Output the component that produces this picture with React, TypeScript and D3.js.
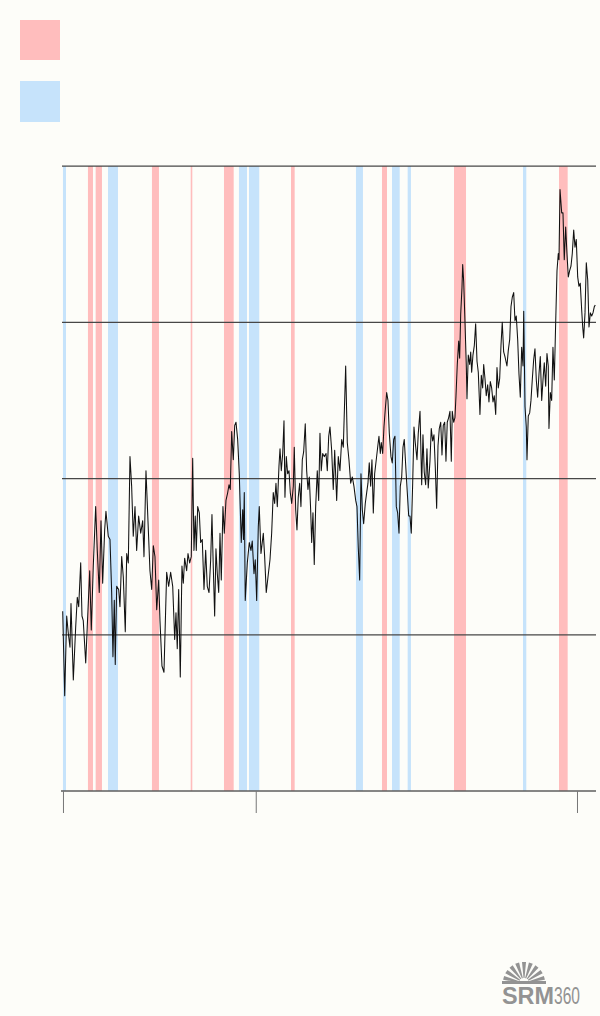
import React from "react";
import * as d3 from "d3";

// ---------- DATA ----------
const years: number[] = [
  1939.88, 1940.19, 1940.5, 1940.75, 1941.01, 1941.17, 1941.53, 1941.9, 1942.15, 1942.37,
  1942.68, 1942.88, 1943.08, 1943.46, 1943.7, 1944.08, 1944.33, 1944.64, 1945.01, 1945.26,
  1945.57, 1945.84, 1946.1, 1946.41, 1946.61, 1946.97, 1947.24, 1947.5, 1947.7, 1947.91,
  1948.06, 1948.28, 1948.59, 1948.79, 1949.06, 1949.31, 1949.62, 1949.84, 1950.09, 1950.35,
  1950.61, 1950.86, 1951.13, 1951.39, 1951.7, 1952.02, 1952.33, 1952.53, 1952.84, 1953.15,
  1953.46, 1953.73, 1953.98, 1954.24, 1954.51, 1954.82, 1955.02, 1955.33, 1955.64, 1956.06,
  1956.37, 1956.68, 1957.0, 1957.31, 1957.51, 1957.71, 1957.93, 1958.18, 1958.44, 1958.65,
  1958.86, 1959.17, 1959.38, 1959.64, 1959.89, 1960.11, 1960.31, 1960.51, 1960.67, 1960.89,
  1961.14, 1961.35, 1961.6, 1961.87, 1962.13, 1962.38, 1962.65, 1962.91, 1963.11, 1963.31,
  1963.53, 1963.73, 1963.94, 1964.16, 1964.36, 1964.56, 1964.82, 1965.03, 1965.29, 1965.56,
  1965.76, 1965.96, 1966.18, 1966.43, 1966.65, 1966.85, 1967.11, 1967.36, 1967.67, 1967.89,
  1968.01, 1968.14, 1968.29, 1968.61, 1968.92, 1969.18, 1969.38, 1969.65, 1969.85, 1970.07,
  1970.32, 1970.47, 1970.74, 1971.1, 1971.31, 1971.56, 1971.83, 1972.14, 1972.4, 1972.65,
  1972.87, 1973.07, 1973.28, 1973.54, 1973.7, 1973.9, 1974.12, 1974.32, 1974.47, 1974.68,
  1974.89, 1975.1, 1975.3, 1975.52, 1975.77, 1975.92, 1976.14, 1976.34, 1976.54, 1976.76,
  1976.96, 1977.17, 1977.38, 1977.63, 1977.85, 1978.05, 1978.26, 1978.47, 1978.63, 1978.83,
  1979.03, 1979.25, 1979.5, 1979.72, 1979.92, 1980.12, 1980.34, 1980.59, 1980.86, 1981.06,
  1981.28, 1981.48, 1981.74, 1981.99, 1982.21, 1982.52, 1982.77, 1983.03, 1983.3, 1983.55,
  1983.92, 1984.17, 1984.43, 1984.7, 1984.95, 1985.21, 1985.48, 1985.68, 1985.88, 1986.1,
  1986.3, 1986.51, 1986.72, 1986.97, 1987.19, 1987.39, 1987.59, 1987.81, 1988.01, 1988.22,
  1988.43, 1988.68, 1988.9, 1989.1, 1989.31, 1989.46, 1989.68, 1989.88, 1990.08, 1990.3,
  1990.5, 1990.71, 1990.97, 1991.17, 1991.39, 1991.59, 1991.8, 1992.01, 1992.22, 1992.42,
  1992.64, 1992.84, 1993.04, 1993.31, 1993.51, 1993.73, 1993.93, 1994.13, 1994.35, 1994.55,
  1994.75, 1995.02, 1995.22, 1995.49, 1995.75, 1995.95, 1996.15, 1996.37, 1996.57, 1996.77,
  1997.04, 1997.24, 1997.46, 1997.66, 1997.87, 1998.08, 1998.29, 1998.49, 1998.71, 1998.91,
  1999.11, 1999.33, 1999.53, 1999.73, 1999.95, 2000.15, 2000.36, 2000.51, 2000.73, 2000.93,
  2001.09, 2001.29, 2001.51, 2001.66, 2001.82, 2002.02, 2002.13, 2002.29, 2002.49, 2002.69,
  2002.8, 2003.0, 2003.22, 2003.38, 2003.53, 2003.73, 2003.94, 2004.15, 2004.36, 2004.56,
  2004.82, 2005.03, 2005.24, 2005.4, 2005.6, 2005.8, 2006.02, 2006.22, 2006.43, 2006.64,
  2006.85, 2007.05, 2007.27, 2007.47, 2007.67, 2007.89, 2008.09, 2008.29, 2008.51, 2008.71,
  2009.02, 2009.23, 2009.45, 2009.65, 2009.85, 2010.07, 2010.27, 2010.47, 2010.69, 2010.89,
  2011.1, 2011.31, 2011.52, 2011.63, 2011.83, 2012.03, 2012.14, 2012.34, 2012.56, 2012.76,
  2012.96, 2013.18, 2013.38, 2013.59, 2013.8, 2014.01, 2014.21, 2014.43, 2014.63, 2014.83,
  2015.05, 2015.25, 2015.45, 2015.56, 2015.77, 2015.98, 2016.18, 2016.39, 2016.6, 2016.81,
  2017.01, 2017.12, 2017.28, 2017.54, 2017.74, 2017.94, 2018.16, 2018.36, 2018.57, 2018.78,
  2018.99, 2019.19, 2019.41, 2019.61, 2019.81, 2020.03, 2020.23, 2020.43, 2020.65, 2020.81,
  2020.96, 2021.17, 2021.37, 2021.59, 2021.79, 2022.0, 2022.21, 2022.41, 2022.62, 2022.77,
];

const values: number[] = [
  1.15, 0.61, 1.12, 1.01, 0.92, 1.2, 0.71, 1.05, 1.24, 1.18,
  1.46, 1.12, 1.09, 0.82, 1.05, 1.41, 1.03, 1.44, 1.82, 1.54,
  1.27, 1.73, 1.33, 1.67, 1.79, 1.63, 1.61, 1.27, 0.86, 1.22,
  0.81, 1.31, 1.29, 1.18, 1.5, 1.37, 1.02, 1.52, 1.46, 2.14,
  1.95, 1.63, 1.82, 1.54, 1.76, 1.65, 1.73, 1.5, 2.05, 1.73,
  1.41, 1.29, 1.57, 1.5, 1.16, 1.35, 1.09, 0.8, 0.76, 1.4,
  1.31, 1.4, 1.31, 0.97, 1.14, 0.91, 1.29, 0.73, 1.44, 1.33,
  1.49, 1.41, 1.52, 1.46, 1.5, 2.13, 1.54, 1.76, 1.54, 1.82,
  1.78, 1.59, 1.61, 1.29, 1.54, 1.31, 1.27, 1.48, 1.77, 1.44,
  1.12, 1.55, 1.39, 1.27, 1.65, 1.35, 1.82, 1.65, 1.86, 1.91,
  1.96, 1.93, 2.3, 2.12, 2.34, 2.36, 2.25, 2.03, 1.59, 1.8,
  1.61, 1.91, 1.22, 1.46, 1.59, 1.54, 1.6, 1.39, 1.48, 1.22,
  1.69, 1.82, 1.52, 1.65, 1.5, 1.27, 1.37, 1.48, 1.65, 1.91,
  1.84, 1.97, 1.82, 2.08, 2.19, 2.05, 2.16, 2.37, 1.88, 2.14,
  2.03, 2.05, 1.91, 1.84, 1.95, 2.2, 1.8, 1.67, 1.88, 1.97,
  1.82, 2.12, 2.17, 2.35, 2.05, 1.93, 2.01, 1.8, 1.59, 1.78,
  1.45, 1.82, 2.05, 1.86, 2.29, 2.05, 2.16, 2.14, 2.16, 2.05,
  2.27, 2.33, 2.18, 1.93, 2.18, 1.86, 2.14, 2.05, 2.25, 2.2,
  2.72, 2.23, 2.12, 1.97, 2.01, 1.95, 1.86, 1.82, 1.56, 1.35,
  2.03, 1.8, 1.71, 1.84, 1.91, 1.97, 2.1, 1.95, 2.12, 1.78,
  2.03, 2.12, 2.2, 2.27, 2.16, 2.23, 2.16, 2.33, 2.44, 2.55,
  2.5, 2.29, 2.14, 2.1, 2.25, 2.27, 1.82, 1.78, 1.65, 1.95,
  2.01, 2.2, 2.25, 2.05, 1.91, 1.76, 1.76, 1.65, 1.97, 2.33,
  2.23, 2.12, 2.29, 2.43, 1.96, 2.28, 2.04, 1.96, 2.19, 1.94,
  2.11, 2.32, 2.24, 2.28, 2.07, 1.81, 2.21, 2.32, 2.36, 2.15,
  2.34, 2.36, 2.11, 2.36, 2.39, 2.43, 2.11, 2.43, 2.36, 2.39,
  2.53, 2.73, 2.88, 2.77, 3.05, 3.22, 3.37, 3.26, 3.0, 2.73,
  2.51, 2.79, 2.73, 2.81, 2.68, 2.79, 2.85, 2.99, 2.75, 2.68,
  2.41, 2.66, 2.58, 2.73, 2.64, 2.53, 2.6, 2.49, 2.62, 2.58,
  2.49, 2.53, 2.41, 2.71, 2.58, 2.64, 2.85, 3.0, 2.81, 2.78,
  2.72, 2.82, 2.89, 3.1, 3.16, 3.19, 3.01, 3.04, 2.89, 2.67,
  2.52, 2.84, 2.72, 3.07, 2.46, 2.33, 2.12, 2.4, 2.42, 2.5,
  2.63, 2.76, 2.83, 2.63, 2.52, 2.67, 2.78, 2.5, 2.63, 2.74,
  2.59, 2.8, 2.72, 2.32, 2.55, 2.5, 2.84, 2.63, 2.99, 3.33,
  3.44, 3.4, 3.85, 3.7, 3.7, 3.4, 3.61, 3.44, 3.29, 3.33,
  3.36, 3.44, 3.59, 3.48, 3.53, 3.29, 3.23, 3.25, 3.08, 2.97,
  2.9, 3.06, 3.38, 3.27, 2.97, 3.06, 3.04, 3.06, 3.1, 3.11,
];

// warm (red) and cool (blue) periods: [start, end] in years
const redPeriods: [number, number][] = [
  [1943.81, 1944.59],
  [1945.01, 1945.99],
  [1953.77, 1954.86],
  [1959.8, 1960.05],
  [1964.98, 1966.49],
  [1975.41, 1975.98],
  [1989.57, 1990.35],
  [2000.78, 2002.65],
  [2017.12, 2018.47],
];
const bluePeriods: [number, number][] = [
  [1939.92, 1940.39],
  [1946.93, 1948.48],
  [1967.31, 1968.56],
  [1968.87, 1970.47],
  [1985.52, 1986.61],
  [1991.13, 1992.33],
  [1993.57, 1994.08],
  [2011.52, 2012.03],
];

const xTicks: number[] = [1940, 1970, 2020];
const gridValues: number[] = [1, 2, 3, 4];
const xDomain: [number, number] = [1939.77, 2022.88];
const yDomain: [number, number] = [0, 4];

// ---------- STYLE ----------
const RED = "#ffbdbd";
const BLUE = "#c6e3fb";
const BG = "#fdfdf9";
const LOGO = "#939393";

export default function App() {
  const W = 600;
  const H = 1016;
  const left = 62;
  const right = 596;
  const top = 166;
  const bottom = 791;

  const x = d3.scaleLinear().domain(xDomain).range([left, right]);
  const y = d3.scaleLinear().domain(yDomain).range([bottom, top]);

  const points = years.map((yr, i) => ({ yr, v: values[i] }));
  const line = d3
    .line<{ yr: number; v: number }>()
    .x((d) => x(d.yr))
    .y((d) => y(d.v));

  // logo sunburst
  const cx = 524;
  const cy = 983;
  const rayAngles = d3.range(9).map((i) => -166 + (i * 152) / 8);

  return (
    <svg
      width={W}
      height={H}
      style={{ position: "absolute", left: 0, top: 0, display: "block" }}
    >
      <rect x={0} y={0} width={W} height={H} fill={BG} />

      {/* legend swatches */}
      <rect x={20} y={20} width={40} height={40} fill={RED} />
      <rect x={20} y={81} width={40} height={41} fill={BLUE} />

      {/* period bands */}
      {redPeriods.map(([a, b], i) => (
        <rect
          key={"r" + i}
          x={x(a)}
          y={top}
          width={Math.max(1.2, x(b) - x(a))}
          height={bottom - top}
          fill={RED}
        />
      ))}
      {bluePeriods.map(([a, b], i) => (
        <rect
          key={"b" + i}
          x={x(a)}
          y={top}
          width={Math.max(1.2, x(b) - x(a))}
          height={bottom - top}
          fill={BLUE}
        />
      ))}

      {/* gridlines */}
      {gridValues.map((g) => (
        <line
          key={"g" + g}
          x1={left}
          x2={right}
          y1={y(g)}
          y2={y(g)}
          stroke="#474747"
          strokeWidth={1.25}
        />
      ))}

      {/* x axis */}
      <line
        x1={left - 1}
        x2={right}
        y1={bottom}
        y2={bottom}
        stroke="#5e5e5e"
        strokeWidth={1.5}
      />
      {xTicks.map((t) => (
        <line
          key={"t" + t}
          x1={x(t)}
          x2={x(t)}
          y1={bottom}
          y2={bottom + 22}
          stroke="#777"
          strokeWidth={1}
        />
      ))}

      {/* series */}
      <path
        d={line(points) || ""}
        fill="none"
        stroke="#111"
        strokeWidth={1.05}
        strokeLinejoin="round"
      />

      {/* logo */}
      <g fill={LOGO} stroke="none">
        {rayAngles.map((a, i) => {
          const r0 = 5;
          const r1 = 21;
          const rad = (a * Math.PI) / 180;
          const perp = rad + Math.PI / 2;
          const w0 = 0.5;
          const w1 = 2.0;
          const p = [
            [cx + r0 * Math.cos(rad) + w0 * Math.cos(perp), cy + r0 * Math.sin(rad) + w0 * Math.sin(perp)],
            [cx + r1 * Math.cos(rad) + w1 * Math.cos(perp), cy + r1 * Math.sin(rad) + w1 * Math.sin(perp)],
            [cx + r1 * Math.cos(rad) - w1 * Math.cos(perp), cy + r1 * Math.sin(rad) - w1 * Math.sin(perp)],
            [cx + r0 * Math.cos(rad) - w0 * Math.cos(perp), cy + r0 * Math.sin(rad) - w0 * Math.sin(perp)],
          ];
          return <polygon key={"ray" + i} points={p.map((q) => q.join(",")).join(" ")} />;
        })}
        <rect x={502} y={981} width={44} height={3} />
        <text
          x={502}
          y={1004}
          fontFamily="'Liberation Sans', Arial, sans-serif"
          fontWeight="bold"
          fontSize={24}
          textLength={52}
          lengthAdjust="spacingAndGlyphs"
        >
          SRM
        </text>
        <text
          x={554}
          y={1004}
          fontFamily="'Liberation Sans', Arial, sans-serif"
          fontSize={24}
          textLength={26}
          lengthAdjust="spacingAndGlyphs"
        >
          360
        </text>
      </g>
    </svg>
  );
}
